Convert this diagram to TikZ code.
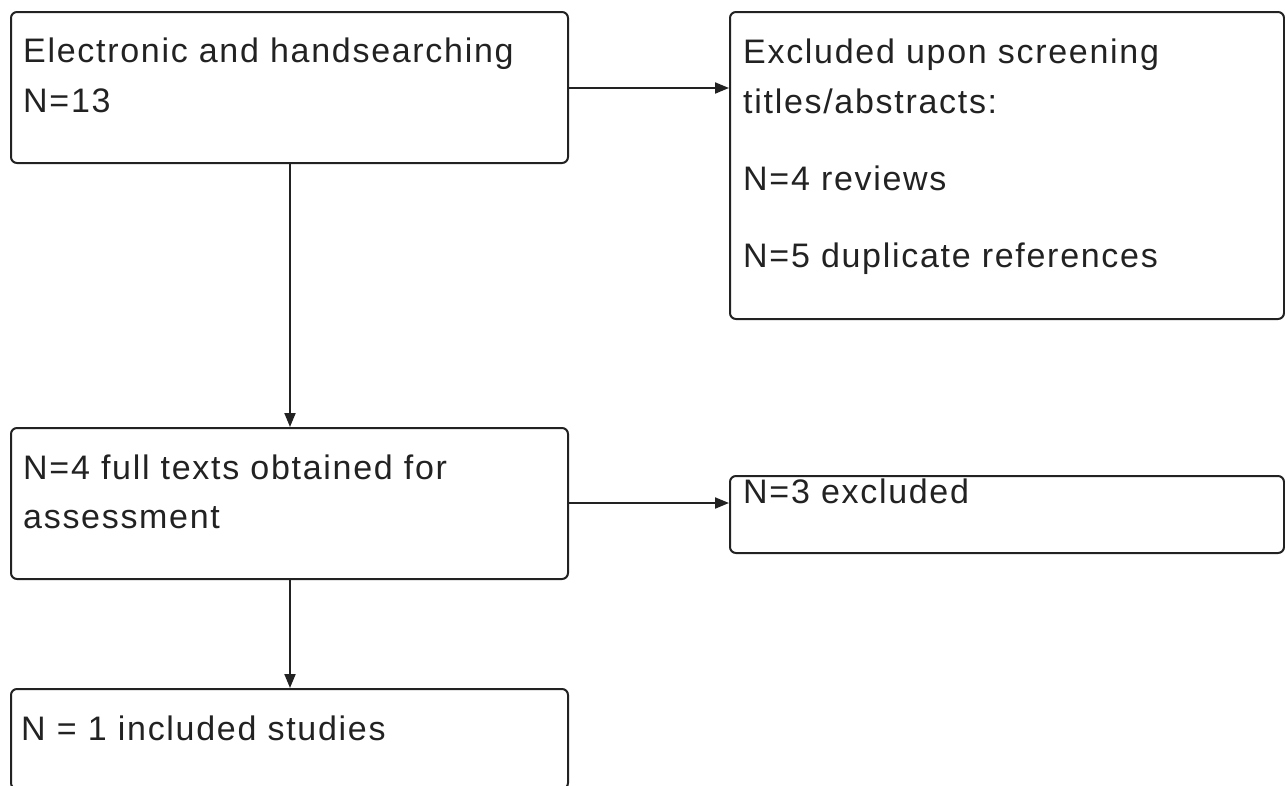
\documentclass[tikz,border=0pt]{standalone}
\usepackage{fontspec}
\setmainfont{Liberation Sans}
\newfontfamily\labfont{Liberation Sans}[LetterSpace=5.0]
\usetikzlibrary{arrows.meta}
\definecolor{ink}{HTML}{222222}
\tikzset{
  box/.style={draw=ink, line width=2pt, rounded corners=6pt, anchor=north west, inner sep=0pt},
  txt/.style={anchor=base west, inner sep=0pt, text=ink, font=\labfont\fontsize{34}{40}\selectfont},
  conn/.style={draw=ink, line width=2pt, -{Triangle[length=14pt,width=11pt]}}
}
\begin{document}
\begin{tikzpicture}[x=1pt,y=-1pt]
\useasboundingbox (0,0) rectangle (1285,785);
\clip (0,0) rectangle (1285,785);
% boxes
\node[box, minimum width=557pt, minimum height=151pt] (A) at (10,11) {};
\node[box, minimum width=554pt, minimum height=307pt] (B) at (729,11) {};
\node[box, minimum width=557pt, minimum height=151pt] (C) at (10,427) {};
\node[box, minimum width=554pt, minimum height=77pt] (D) at (729,475) {};
\node[box, minimum width=557pt, minimum height=100pt] (E) at (10,688) {};
% texts
\node[txt] (a1) at (23,62) {Electronic and handsearching};
\node[txt] (a2) at (23,112) {N=13};
\node[txt] (b1) at (743,63) {Excluded upon screening};
\node[txt] (b2) at (743,113) {titles/abstracts:};
\node[txt] (b3) at (743,190) {N=4 reviews};
\node[txt] (b4) at (743,267) {N=5 duplicate references};
\node[txt] (c1) at (23,479) {N=4 full texts obtained for};
\node[txt] (c2) at (23,528) {assessment};
\node[txt] (d1) at (743,503) {N=3 excluded};
\node[txt] (e1) at (21,740) {N = 1 included studies};
% connectors
\coordinate (ab) at (A.east |- 0,88);
\draw[conn] (ab) -- (ab -| B.west);
\coordinate (cd) at (C.east |- 0,503);
\draw[conn] (cd) -- (cd -| D.west);
\coordinate (ac) at (290,0);
\draw[conn] (ac |- A.south) -- (ac |- C.north);
\draw[conn] (ac |- C.south) -- (ac |- E.north);
\end{tikzpicture}
\end{document}
